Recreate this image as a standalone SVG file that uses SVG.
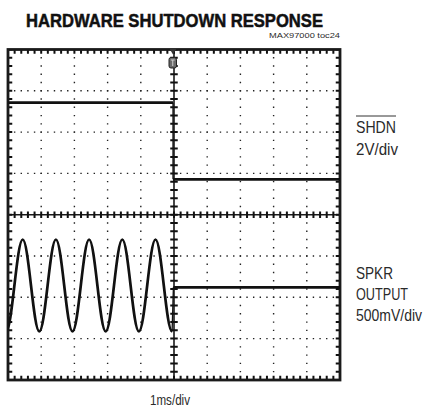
<svg xmlns="http://www.w3.org/2000/svg" width="427" height="411" viewBox="0 0 427 411">
<defs>
<style>
.t{font-family:"Liberation Sans",Arial,sans-serif;fill:#2a2a2a}
.hd{stroke:#222;stroke-width:1.4;stroke-dasharray:1.4 5.24;stroke-dashoffset:0.7}
.vd{stroke:#222;stroke-width:1.4;stroke-dasharray:1.4 6.86;stroke-dashoffset:0.7}
.ht{stroke:#111;stroke-dasharray:2 4.64;stroke-dashoffset:1}
.vt{stroke:#111;stroke-dasharray:2 6.26;stroke-dashoffset:1}
.tr{fill:none;stroke:#111;stroke-width:2.7;stroke-linejoin:round}
</style>
<clipPath id="plot"><rect x="8" y="49.5" width="332" height="330.5"/></clipPath>
</defs>
<rect width="427" height="411" fill="#fff"/>
<g id="title">
<text class="t" x="26" y="26.5" font-size="18.5" font-weight="bold" textLength="297" lengthAdjust="spacingAndGlyphs" style="fill:#111;stroke:#111;stroke-width:0.5">HARDWARE SHUTDOWN RESPONSE</text>
<text class="t" x="340" y="37.5" font-size="7.5" text-anchor="end" textLength="71" lengthAdjust="spacingAndGlyphs">MAX97000 toc24</text>
</g>
<g id="grid">
<line class="hd" x1="8" y1="90.8" x2="340" y2="90.8"/>
<line class="hd" x1="8" y1="132.1" x2="340" y2="132.1"/>
<line class="hd" x1="8" y1="173.4" x2="340" y2="173.4"/>
<line class="hd" x1="8" y1="256" x2="340" y2="256"/>
<line class="hd" x1="8" y1="297.3" x2="340" y2="297.3"/>
<line class="hd" x1="8" y1="338.6" x2="340" y2="338.6"/>
<line class="vd" x1="41.2" y1="49.5" x2="41.2" y2="380"/>
<line class="vd" x1="74.4" y1="49.5" x2="74.4" y2="380"/>
<line class="vd" x1="107.6" y1="49.5" x2="107.6" y2="380"/>
<line class="vd" x1="140.8" y1="49.5" x2="140.8" y2="380"/>
<line class="vd" x1="207.2" y1="49.5" x2="207.2" y2="380"/>
<line class="vd" x1="240.4" y1="49.5" x2="240.4" y2="380"/>
<line class="vd" x1="273.6" y1="49.5" x2="273.6" y2="380"/>
<line class="vd" x1="306.8" y1="49.5" x2="306.8" y2="380"/>
<line x1="8" y1="214.7" x2="340" y2="214.7" stroke="#1a1a1a" stroke-width="1.6"/>
<line x1="174" y1="49.5" x2="174" y2="380" stroke="#1a1a1a" stroke-width="1.6"/>
<line class="ht" x1="8" y1="214.7" x2="340" y2="214.7" stroke-width="6.5"/>
<line class="vt" x1="174" y1="49.5" x2="174" y2="380" stroke-width="7.5"/>
<line class="ht" x1="8" y1="51.5" x2="340" y2="51.5" stroke-width="4.5"/>
<line class="ht" x1="8" y1="378" x2="340" y2="378" stroke-width="4.5"/>
<line class="vt" x1="10" y1="49.5" x2="10" y2="380" stroke-width="4.5"/>
<line class="vt" x1="338" y1="49.5" x2="338" y2="380" stroke-width="4.5"/>
<rect x="8" y="49.5" width="332" height="330.5" fill="none" stroke="#1a1a1a" stroke-width="2.8"/>
</g>
<g id="traces" clip-path="url(#plot)">
<path class="tr" d="M8,102.7 H173"/>
<path d="M173,102.7 V179.3" stroke="#111" stroke-width="1.3" fill="none"/>
<path class="tr" d="M173,179.3 H340"/>
<path class="tr" d="M6.1,331.5 c3,0 5.59,-22.43 8.3,-46
c2.71,-23.57 5.3,-46 8.3,-46 c3,0 5.59,22.43 8.3,46 c2.71,23.57 5.3,46 8.3,46 c3,0 5.59,-22.43 8.3,-46
c2.71,-23.57 5.3,-46 8.3,-46 c3,0 5.59,22.43 8.3,46 c2.71,23.57 5.3,46 8.3,46 c3,0 5.59,-22.43 8.3,-46
c2.71,-23.57 5.3,-46 8.3,-46 c3,0 5.59,22.43 8.3,46 c2.71,23.57 5.3,46 8.3,46 c3,0 5.59,-22.43 8.3,-46
c2.71,-23.57 5.3,-46 8.3,-46 c3,0 5.59,22.43 8.3,46 c2.71,23.57 5.3,46 8.3,46 c3,0 5.59,-22.43 8.3,-46
c2.71,-23.57 5.3,-46 8.3,-46 c3,0 5.59,22.43 8.3,46 c2.71,23.57 5.3,46 8.3,46"/>
<path d="M172.1,331.5 L173.4,287.3" stroke="#111" stroke-width="1.3" fill="none"/>
<path class="tr" d="M173.4,287.3 H340"/>
</g>
<g id="trigger">
<polygon points="169.4,48.5 176.6,48.5 173,54.5" fill="#333"/>
<rect x="169" y="57.5" width="7.5" height="10.5" rx="2" fill="#6a6a6a" stroke="#222" stroke-width="1"/>
<path d="M170.8,60 H174.7 M172.75,60 V66" stroke="#cfcfcf" stroke-width="1" fill="none"/>
</g>
<g id="labels">
<line x1="356" y1="116" x2="396" y2="116" stroke="#333" stroke-width="1"/>
<text class="t" x="356" y="133" font-size="16.5" textLength="40" lengthAdjust="spacingAndGlyphs">SHDN</text>
<text class="t" x="356" y="155" font-size="16.5" textLength="42" lengthAdjust="spacingAndGlyphs">2V/div</text>
<text class="t" x="356" y="278.5" font-size="17" textLength="37" lengthAdjust="spacingAndGlyphs">SPKR</text>
<text class="t" x="356" y="300" font-size="17" textLength="52" lengthAdjust="spacingAndGlyphs">OUTPUT</text>
<text class="t" x="356" y="321" font-size="16.5" textLength="66" lengthAdjust="spacingAndGlyphs">500mV/div</text>
<text class="t" x="150" y="405" font-size="14.5" textLength="40" lengthAdjust="spacingAndGlyphs">1ms/div</text>
</g>
</svg>
